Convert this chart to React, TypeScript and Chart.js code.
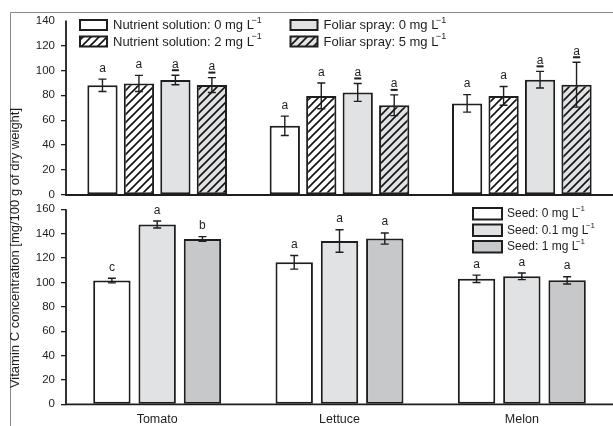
import React, { useEffect, useRef } from 'react';
import { Chart, registerables } from 'chart.js';

Chart.register(...registerables);

// ---------- data ----------
const categories = ['Tomato', 'Lettuce', 'Melon'];

const topSeriesLabels = [
  'Nutrient solution: 0 mg L',
  'Nutrient solution: 2 mg L',
  'Foliar spray: 0 mg L',
  'Foliar spray: 5 mg L',
];
const nutrient0 = [88, 55.5, 73.5];
const nutrient0Err = [5, 7.8, 7];
const nutrient2 = [89.5, 79.5, 79.5];
const nutrient2Err = [6.5, 10.3, 7.5];
const foliar0 = [92.3, 82.3, 92.5];
const foliar0Err = [3.8, 7.2, 6.7];
const foliar5 = [88.2, 72, 88.5];
const foliar5Err = [6, 8.3, 18];
const topLetters = [
  ['a', 'a', 'a'],
  ['a', 'a', 'a'],
  ['a', 'a', 'a'],
  ['a', 'a', 'a'],
];
const topUnderlined = [
  [false, false, false],
  [false, false, false],
  [true, true, true],
  [true, true, true],
];

const bottomSeriesLabels = ['Seed: 0 mg L', 'Seed: 0.1 mg L', 'Seed: 1 mg L'];
const seed0 = [101.5, 116.5, 103];
const seed0Err = [1.9, 5.6, 3];
const seed01 = [147.5, 134, 105];
const seed01Err = [2.9, 9.2, 2.7];
const seed1 = [135.7, 136, 101.7];
const seed1Err = [1.9, 4.6, 3];
const bottomLetters = [
  ['c', 'a', 'a'],
  ['a', 'a', 'a'],
  ['b', 'a', 'a'],
];
const bottomUnderlined = [
  [false, false, false],
  [false, false, false],
  [false, false, false],
];

const topTickMax = 140;
const bottomTickMax = 160;
const tickStep = 20;
const yTitle = 'Vitamin C concentration [mg/100 g of dry weight]';
const superscript = '\u22121';

const FONT = 'Liberation Sans';
const INK = '#1e1e1e';
const W = 613;
const H = 426;
const SPLIT = 195; // pixel row where the top panel's baseline sits

function makeHatch(bg: string): CanvasPattern | string {
  const c = document.createElement('canvas');
  c.width = 8;
  c.height = 8;
  const g = c.getContext('2d');
  if (!g) return bg;
  g.fillStyle = bg;
  g.fillRect(0, 0, 8, 8);
  g.strokeStyle = '#111';
  g.lineWidth = 1.6;
  g.beginPath();
  g.moveTo(0, 8);
  g.lineTo(8, 0);
  g.moveTo(-2, 2);
  g.lineTo(2, -2);
  g.moveTo(6, 10);
  g.lineTo(10, 6);
  g.stroke();
  const p = g.createPattern(c, 'repeat');
  return p || bg;
}

function drawLabelWithSup(ctx: CanvasRenderingContext2D, text: string, x: number, y: number, size: number) {
  ctx.font = `${size}px "${FONT}"`;
  ctx.textAlign = 'left';
  ctx.textBaseline = 'middle';
  ctx.fillStyle = INK;
  ctx.fillText(text, x, y);
  const w = ctx.measureText(text).width;
  ctx.font = `${Math.round(size * 0.68)}px "${FONT}"`;
  ctx.fillText(superscript, x + w - 2.5, y - size * 0.42);
}

const errorPlugin = {
  id: 'errorsAndLetters',
  afterDatasetsDraw(chart: any) {
    const ctx = chart.ctx;
    ctx.save();
    const ys = chart.scales.y;
    chart.data.datasets.forEach((ds: any, i: number) => {
      const meta = chart.getDatasetMeta(i);
      meta.data.forEach((el: any, j: number) => {
        const v = ds.data[j];
        const e = ds.errors[j];
        const x = el.x;
        const yHi = ys.getPixelForValue(v + e);
        const yLo = ys.getPixelForValue(v - e);
        ctx.strokeStyle = INK;
        ctx.lineWidth = 1.4;
        ctx.beginPath();
        ctx.moveTo(x, yHi);
        ctx.lineTo(x, yLo);
        ctx.moveTo(x - 4, yHi);
        ctx.lineTo(x + 4, yHi);
        ctx.moveTo(x - 4, yLo);
        ctx.lineTo(x + 4, yLo);
        ctx.stroke();
        const base = yHi - 7.5;
        ctx.font = `12px "${FONT}"`;
        ctx.textAlign = 'center';
        ctx.textBaseline = 'alphabetic';
        ctx.fillStyle = INK;
        ctx.fillText(ds.letters[j], x, base);
        if (ds.underlined[j]) ctx.fillRect(x - 3.5, base + 1.5, 7, 2);
      });
    });
    ctx.restore();
  },
  afterDraw(chart: any) {
    const ctx = chart.ctx;
    const ys = chart.scales.y;
    const left = chart.chartArea.left;
    const top = chart.options.plugins.panel.tickMax;
    ctx.save();
    ctx.strokeStyle = INK;
    ctx.lineWidth = 1.8;
    ctx.beginPath();
    ctx.moveTo(left, ys.getPixelForValue(top));
    ctx.lineTo(left, ys.getPixelForValue(0));
    ctx.lineTo(chart.width, ys.getPixelForValue(0));
    ctx.stroke();
    ctx.restore();
  },
};

function yScale(tickMax: number, hideTopTick: boolean) {
  return {
    type: 'linear',
    position: 'left',
    min: 0,
    max: tickMax,
    grid: {
      display: true,
      drawOnChartArea: false,
      drawTicks: true,
      tickLength: 5,
      tickColor: (c: any) => (hideTopTick && c.tick && c.tick.value === tickMax ? 'rgba(0,0,0,0)' : INK),
      lineWidth: 1.3,
    },
    border: { display: false },
    ticks: {
      stepSize: tickStep,
      autoSkip: false,
      color: INK,
      font: { size: 11.5, family: FONT },
      padding: 6,
      includeBounds: false,
    },
    afterFit: (s: any) => {
      s.width = 66;
    },
  };
}

export default function App() {
  const topRef = useRef<HTMLCanvasElement | null>(null);
  const botRef = useRef<HTMLCanvasElement | null>(null);

  useEffect(() => {
    if (!topRef.current || !botRef.current) return;
    Chart.defaults.font.family = FONT;

    const white = '#ffffff';
    const light = '#e1e2e4';
    const mid = '#c7c8ca';
    const hatchWhite = makeHatch(white);
    const hatchLight = makeHatch(light);

    const topData = [nutrient0, nutrient2, foliar0, foliar5];
    const topErr = [nutrient0Err, nutrient2Err, foliar0Err, foliar5Err];
    const topFill: any[] = [white, hatchWhite, light, hatchLight];
    const botData = [seed0, seed01, seed1];
    const botErr = [seed0Err, seed01Err, seed1Err];
    const botFill: any[] = [white, light, mid];

    const topDatasets = topData.map((d, i) => ({
      label: topSeriesLabels[i],
      data: d,
      backgroundColor: topFill[i],
      borderColor: INK,
      borderWidth: 2,
      borderSkipped: false,
      categoryPercentage: 0.8,
      barPercentage: 0.83,
      errors: topErr[i],
      letters: topLetters[i],
      underlined: topUnderlined[i],
    }));
    const botDatasets = botData.map((d, i) => ({
      label: bottomSeriesLabels[i],
      data: d,
      backgroundColor: botFill[i],
      borderColor: INK,
      borderWidth: 2,
      borderSkipped: false,
      categoryPercentage: 0.745,
      barPercentage: 0.826,
      errors: botErr[i],
      letters: bottomLetters[i],
      underlined: bottomUnderlined[i],
    }));

    const topDecor = {
      id: 'topDecor',
      beforeDraw(chart: any) {
        const ctx = chart.ctx;
        ctx.save();
        ctx.strokeStyle = '#8a8a8a';
        ctx.lineWidth = 1;
        ctx.beginPath();
        ctx.moveTo(10.5, H);
        ctx.lineTo(10.5, 12.5);
        ctx.lineTo(chart.width, 12.5);
        ctx.stroke();
        ctx.restore();
      },
      afterDraw(chart: any) {
        const ctx = chart.ctx;
        ctx.save();
        const cols = [80, 290.5];
        const rows = [20, 36.5];
        chart.data.datasets.forEach((ds: any, k: number) => {
          const bx = cols[Math.floor(k / 2)];
          const by = rows[k % 2];
          ctx.fillStyle = ds.backgroundColor;
          ctx.fillRect(bx, by, 27, 10);
          ctx.strokeStyle = INK;
          ctx.lineWidth = 2;
          ctx.strokeRect(bx, by, 27, 10);
          drawLabelWithSup(ctx, ds.label, bx + 33, by + 5.5, 13);
        });
        ctx.translate(15, 248);
        ctx.rotate(-Math.PI / 2);
        ctx.font = `13px "${FONT}"`;
        ctx.textAlign = 'center';
        ctx.textBaseline = 'middle';
        ctx.fillStyle = INK;
        ctx.fillText(yTitle, 0, 0);
        ctx.restore();
      },
    };

    const botDecor = {
      id: 'botDecor',
      afterDraw(chart: any) {
        const ctx = chart.ctx;
        ctx.save();
        const rows = [13, 29.5, 46];
        chart.data.datasets.forEach((ds: any, k: number) => {
          const bx = 473;
          const by = rows[k];
          ctx.fillStyle = ds.backgroundColor;
          ctx.fillRect(bx, by, 29, 11.5);
          ctx.strokeStyle = INK;
          ctx.lineWidth = 2;
          ctx.strokeRect(bx, by, 29, 11.5);
          drawLabelWithSup(ctx, ds.label, bx + 34, by + 6, 12);
        });
        ctx.restore();
      },
    };

    const topChart = new Chart(topRef.current, {
      type: 'bar',
      data: { labels: categories, datasets: topDatasets },
      options: {
        animation: false,
        responsive: false,
        devicePixelRatio: 1,
        layout: { padding: { top: 20.5, left: 0, right: 0, bottom: H - SPLIT } },
        plugins: { legend: { display: false }, tooltip: { enabled: false }, panel: { tickMax: topTickMax } },
        scales: {
          x: { type: 'category', display: false, grid: { display: false } },
          y: yScale(topTickMax, true),
        },
      } as any,
      plugins: [topDecor, errorPlugin],
    });

    const botChart = new Chart(botRef.current, {
      type: 'bar',
      data: { labels: categories, datasets: botDatasets },
      options: {
        animation: false,
        responsive: false,
        devicePixelRatio: 1,
        layout: { padding: { top: 14.3, left: 0, right: 0, bottom: 0 } },
        plugins: { legend: { display: false }, tooltip: { enabled: false }, panel: { tickMax: bottomTickMax } },
        scales: {
          x: {
            type: 'category',
            position: 'bottom',
            grid: { display: false, drawTicks: false },
            border: { display: false },
            ticks: { color: INK, font: { size: 12.5, family: FONT }, padding: 8, maxRotation: 0 },
            afterFit: (s: any) => {
              s.height = 21.7;
            },
          },
          y: yScale(bottomTickMax, false),
        },
      } as any,
      plugins: [botDecor, errorPlugin],
    });

    return () => {
      topChart.destroy();
      botChart.destroy();
    };
  }, []);

  return (
    <div style={{ position: 'absolute', left: 0, top: 0, width: W, height: H, background: '#fff', overflow: 'hidden' }}>
      <canvas
        ref={topRef}
        width={W}
        height={H}
        style={{ position: 'absolute', left: 0, top: 0, width: W, height: H, display: 'block' }}
      />
      <canvas
        ref={botRef}
        width={W}
        height={H - SPLIT}
        style={{ position: 'absolute', left: 0, top: SPLIT, width: W, height: H - SPLIT, display: 'block' }}
      />
    </div>
  );
}
